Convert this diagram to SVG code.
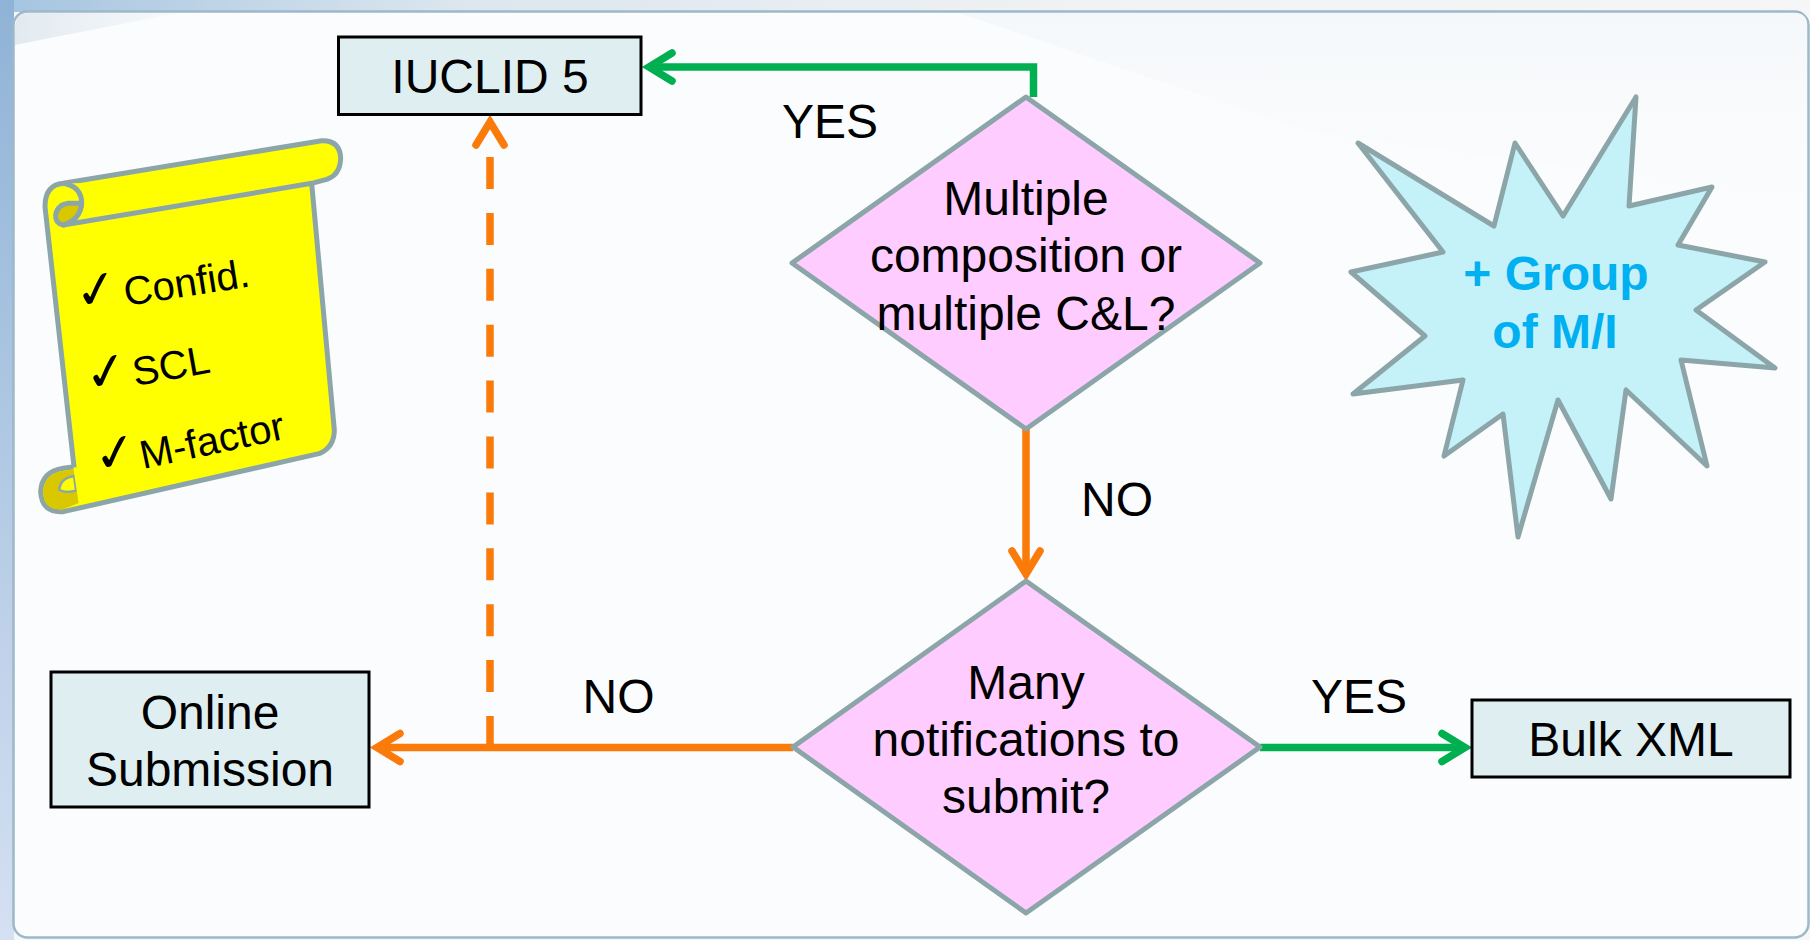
<svg xmlns="http://www.w3.org/2000/svg" width="1810" height="940" viewBox="0 0 1810 940">
<style>
text{font-family:"Liberation Sans",Arial,sans-serif;fill:#000;text-anchor:middle;font-size:48px}
.box{fill:#dfeef0;stroke:#000;stroke-width:3}
.dec{fill:#ffccff;stroke:#8ca5a8;stroke-width:5;stroke-linejoin:round}
.scroll{fill:#ffff00;stroke:#8ca5a8;stroke-width:15;stroke-linejoin:round}
.curl{fill:#d9c800;stroke:#8ca5a8;stroke-width:15;stroke-linejoin:round}
.sm{font-size:40px;text-anchor:start}
.ck{font-family:"DejaVu Sans",sans-serif;font-size:52px;text-anchor:start;font-weight:bold}
.g{fill:none;stroke:#00b050;stroke-width:7.5}
.o{fill:none;stroke:#fa7a0a;stroke-width:7.5}
.hg{fill:none;stroke:#00b050;stroke-width:7.5;stroke-linecap:round;stroke-linejoin:miter}
.ho{fill:none;stroke:#fa7a0a;stroke-width:7.5;stroke-linecap:round;stroke-linejoin:miter}
</style>
<defs>
<linearGradient id="edge" x1="0" y1="0" x2="0" y2="1"><stop offset="0" stop-color="#8fb3d6"/><stop offset="1" stop-color="#d5e0f2"/></linearGradient>
<linearGradient id="topb" x1="0" y1="0" x2="1" y2="0"><stop offset="0" stop-color="#a4c4e0"/><stop offset=".25" stop-color="#dbe6ee"/><stop offset=".6" stop-color="#f0f2f4"/><stop offset="1" stop-color="#f6f6f8"/></linearGradient>
<linearGradient id="wl" x1="0" y1="0" x2="1" y2="0"><stop offset="0" stop-color="#e2eaf0"/><stop offset="1" stop-color="#f8fafc"/></linearGradient>
<linearGradient id="wr" x1="0" y1="0" x2="0" y2="1"><stop offset="0" stop-color="#f5f8fa"/><stop offset="1" stop-color="#fbfcfe"/></linearGradient>
<marker id="ag" markerUnits="userSpaceOnUse" markerWidth="80" markerHeight="80" refX="40" refY="40" orient="auto" overflow="visible"><path class="hg" d="M17,26 L40,40 L17,54"/></marker>
<marker id="ao" markerUnits="userSpaceOnUse" markerWidth="80" markerHeight="80" refX="40" refY="40" orient="auto" overflow="visible"><path class="ho" d="M17,26 L40,40 L17,54"/></marker>
</defs>
<g id="background">
<rect width="1810" height="940" fill="#f6f7f9"/>
<rect width="1810" height="12" fill="url(#topb)"/>
<rect width="14" height="940" fill="url(#edge)"/>
<rect x="13.5" y="11.5" width="1795" height="926" rx="14" fill="#fbfcfe" stroke="#9db8c8" stroke-width="2.5"/>
<path d="M15,45 L15,28 Q15,13 30,13 L180,13 Q100,28 15,45 Z" fill="url(#wl)"/>
<path d="M958,13 L1795,13 Q1807,13 1807,25 L1807,200 L1310,132 Z" fill="url(#wr)"/>
</g>
<g id="connectors">
<path class="g" d="M1033.5,97 L1033.5,67 L649,67" marker-end="url(#ag)"/>
<path class="o" d="M1026,429 L1026,574" marker-end="url(#ao)"/>
<path class="g" d="M1260,747.500 L1465,747.500" marker-end="url(#ag)"/>
<path class="o" d="M793,747.500 L377,747.500" marker-end="url(#ao)"/>
<path class="o" d="M490,748 L490,122" stroke-dasharray="32 23.9 32 23.9 32 23.9 32 23.9 32 23.9 32 23.9 32 23.9 32 23.9 32 23.9 32 23.9 32 100" marker-end="url(#ao)"/>
</g>
<g id="iuclid"><rect class="box" x="338.500" y="37" width="302.500" height="77.500"/><text x="490" y="93">IUCLID 5</text></g>
<g id="online"><rect class="box" x="51" y="672" width="318" height="135"/><text x="210" y="729">Online</text><text x="210" y="786">Submission</text></g>
<g id="bulk"><rect class="box" x="1472" y="700" width="318" height="77"/><text x="1631" y="756">Bulk XML</text></g>
<g id="decision1"><path class="dec" d="M1026,97 L1260,263 L1026,429 L792,263 Z"/><text x="1026" y="214.500">Multiple</text><text x="1026" y="271.500">composition or</text><text x="1026" y="329.500">multiple C&amp;L?</text></g>
<g id="decision2"><path class="dec" d="M1026,581 L1260,747 L1026,913 L793,747 Z"/><text x="1026" y="698.500">Many</text><text x="1026" y="755.500">notifications to</text><text x="1026" y="812.500">submit?</text></g>
<g id="burst"><path d="M1358,143 L1494,226 L1515,143 L1563,216 L1636,97 L1629,206 L1712,187 L1678,245 L1765,262 L1696,310 L1775,368 L1681,360 L1707,466 L1626,390 L1611,499 L1558,400 L1518,537 L1503,414 L1444,456 L1463,380 L1353,394 L1425,336 L1351,272 L1443,252 Z" fill="#c5f1f9" stroke="#8ca5a8" stroke-width="5" stroke-linejoin="round"/>
<text x="1556" y="290" font-weight="bold" style="fill:#00b0f0">+ Group</text><text x="1555" y="348" font-weight="bold" style="fill:#00b0f0">of M/I</text></g>
<g id="scroll">
<g transform="translate(0 120) scale(.33333)">
<path class="scroll" d="M190,190 L965,62 Q1020,60 1022,115 Q1020,165 980,178 L935,190 L1003,930 Q1003,980 960,1000 L190,1175 Q125,1180 122,1115 Q125,1055 190,1045 L222,1040 L135,260 Q135,195 190,190 Z"/>
<path class="scroll" style="fill:#ff0" d="M190,190 Q245,200 245,250 Q240,300 190,315 L935,190"/>
<path class="curl" d="M245,250 Q240,300 190,315 Q165,310 167,285 Q172,255 205,250 Z"/>
<path d="M222,1048 L238,1148 L190,1168 Q130,1172 129,1115 Q132,1062 190,1052 Z" fill="#d9c800"/>
<path d="M222,1068 Q180,1075 178,1110 Q198,1120 228,1112 Z" fill="#ffff00" stroke="#8ca5a8" stroke-width="7"/>
<path d="M224,1042 L240,1150" fill="none" stroke="#ffff00" stroke-width="8"/>
</g>
<text class="ck" transform="rotate(-10 78 311)" x="78" y="311">✓</text><text class="sm" transform="rotate(-9 126 306)" x="126" y="306">Confid.</text>
<text class="ck" transform="rotate(-10 88 393)" x="88" y="393">✓</text><text class="sm" transform="rotate(-10 135 386)" x="135" y="386">SCL</text>
<text class="ck" transform="rotate(-10 97 474)" x="97" y="474">✓</text><text class="sm" transform="rotate(-12 143 469)" x="143" y="469">M-factor</text>
</g>
<g id="labels">
<text x="830" y="138">YES</text>
<text x="1117" y="516">NO</text>
<text x="618.500" y="712.500">NO</text>
<text x="1359" y="712.500">YES</text>
</g>
</svg>
